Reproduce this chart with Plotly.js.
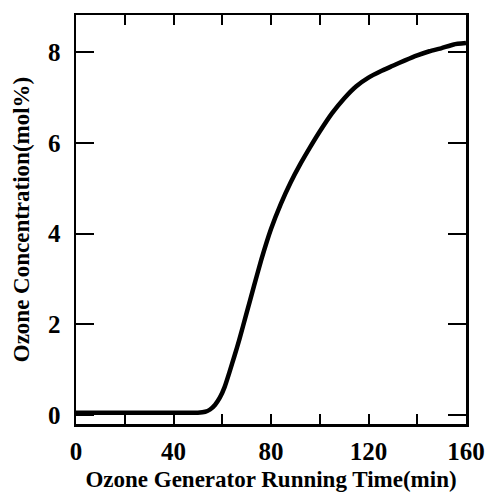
<!DOCTYPE html>
<html>
<head>
<meta charset="utf-8">
<script src="https://cdn.plot.ly/plotly-3.0.1.min.js"></script>
<style>html,body{margin:0;padding:0;background:#fff;}#chart{width:488px;height:497px;}</style>
</head>
<body>
<div id="chart"></div>
<script>
const timeMin = [0, 10, 20, 30, 40, 50, 53, 55, 57, 59, 61, 63, 65, 67, 70, 73, 76, 80, 84, 88, 92, 96, 100, 105, 110, 115, 120, 125, 130, 135, 140, 145, 150, 155, 160];
const ozoneMolPct = [0.05, 0.05, 0.05, 0.05, 0.05, 0.05, 0.07, 0.12, 0.22, 0.38, 0.62, 0.95, 1.3, 1.66, 2.25, 2.84, 3.42, 4.1, 4.65, 5.12, 5.53, 5.9, 6.25, 6.65, 6.98, 7.25, 7.44, 7.58, 7.7, 7.82, 7.93, 8.02, 8.09, 8.17, 8.2];
const xTickVals = [0, 20, 40, 60, 80, 100, 120, 140, 160];
const xTickLabels = ['0', '', '40', '', '80', '', '120', '', '160'];
const yTickVals = [0, 2, 4, 6, 8];
const yTickLabels = ['0', '2', '4', '6', '8'];

const font = "'Liberation Serif', 'Times New Roman', serif";

const trace = {
  x: timeMin, y: ozoneMolPct, type: 'scatter', mode: 'lines',
  line: {color: '#000', width: 4.5, shape: 'spline', smoothing: 0.4},
  hoverinfo: 'skip'
};

const layout = {
  width: 488, height: 497,
  margin: {l: 76, r: 22, t: 15, b: 73},
  paper_bgcolor: '#fff', plot_bgcolor: '#fff',
  showlegend: false,
  font: {family: font, color: '#000'},
  xaxis: {
    range: [0, 160], showgrid: false, zeroline: false,
    showline: true, linecolor: '#000', linewidth: 2.5, mirror: 'ticks',
    ticks: 'inside', ticklen: 10, tickwidth: 2, tickcolor: '#000',
    tickmode: 'array', tickvals: xTickVals,
    ticktext: xTickLabels.map(s => s ? '<b>' + s + '</b>' : ''),
    tickfont: {family: font, size: 25, color: '#000'},
    ticklabelstandoff: 3,
    title: {text: '<b>Ozone Generator Running Time(min)</b>', font: {family: font, size: 23, color: '#000'}, standoff: 8}
  },
  yaxis: {
    range: [-0.2, 8.82], showgrid: false, zeroline: false,
    showline: true, linecolor: '#000', linewidth: 2.5, mirror: 'ticks',
    ticks: 'inside', ticklen: 18, tickwidth: 2, tickcolor: '#000',
    tickmode: 'array', tickvals: yTickVals,
    ticktext: yTickLabels.map(s => '<b>' + s + '</b>'),
    tickfont: {family: font, size: 25, color: '#000'},
    ticklabelstandoff: 8,
    title: {text: '<b>Ozone Concentration(mol%)</b>', font: {family: font, size: 23, color: '#000'}, standoff: 12}
  }
};

Plotly.newPlot('chart', [trace], layout, {displayModeBar: false, staticPlot: true});
</script>
</body>
</html>
